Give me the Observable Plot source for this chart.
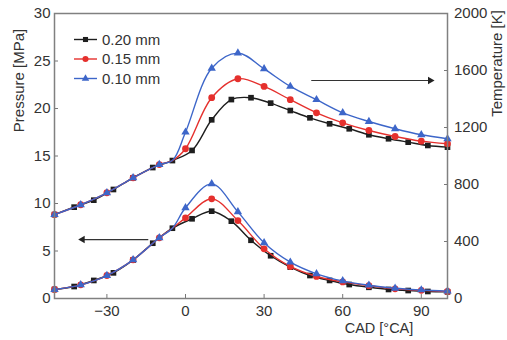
<!DOCTYPE html>
<html>
<head>
<meta charset="utf-8">
<script src="https://cdn.jsdelivr.net/npm/d3@7"></script>
<script src="https://cdn.jsdelivr.net/npm/@observablehq/plot@0.6"></script>
<style>
  html, body { margin: 0; padding: 0; background: #fff; }
</style>
</head>
<body>
<div id="chart"></div>
<script>
// ---- data ----
const seriesNames = ["0.20 mm", "0.15 mm", "0.10 mm"];
const seriesColors = ["#1e1e1e", "#e5302d", "#3d66c9"];

// 0.20 mm: markers every 7.5 °CA
const cadBlack = [-50, -42.5, -35, -27.5, -20, -12.5, -5, 2.5, 10, 17.5, 25, 32.5, 40, 47.5, 55, 62.5, 70, 77.5, 85, 92.5, 100];
const pBlack   = [0.95, 1.26, 1.9, 2.7, 4.05, 5.82, 7.4, 8.39, 9.19, 8.14, 6.13, 4.5, 3.3, 2.42, 1.9, 1.47, 1.18, 0.95, 0.84, 0.74, 0.7];
const tBlack   = [589, 641, 690, 765, 847, 919, 968, 1039, 1254, 1396, 1409, 1371, 1319, 1268, 1226, 1191, 1149, 1121, 1097, 1074, 1062];

// 0.15 mm and 0.10 mm: markers every 10 °CA (-5 is a line-only point)
const cadRB  = [-50, -40, -30, -20, -10, -5, 0, 10, 20, 30, 40, 50, 60, 70, 80, 90, 100];
const pRed   = [0.95, 1.44, 2.42, 4.07, 6.39, 7.4, 8.49, 10.49, 8.2, 5.23, 3.37, 2.32, 1.75, 1.35, 1.02, 0.86, 0.74];
const tRed   = [589, 658, 742, 847, 940, 968, 1051, 1409, 1542, 1488, 1395, 1303, 1233, 1179, 1137, 1104, 1086];
const pBlue  = [0.95, 1.44, 2.42, 4.07, 6.39, 7.4, 9.55, 12.07, 9.12, 5.86, 3.82, 2.6, 1.85, 1.4, 1.08, 0.9, 0.78];
const tBlue  = [589, 658, 742, 847, 940, 968, 1167, 1616, 1722, 1611, 1488, 1395, 1303, 1242, 1191, 1149, 1121];

// axes
const cadTicks = [-30, 0, 30, 60, 90];
const pressureTicks = [0, 5, 10, 15, 20, 25, 30];
const tempTicks = [0, 400, 800, 1200, 1600, 2000];
const pMax = 30, tMax = 2000;

// annotation arrows (x in °CA, y in MPa)
const arrows = [
  {x1: 48, x2: 93.4, y: 22.95},
  {x1: -14.2, x2: -39.3, y: 6.2}
];

// ---- build tables ----
const toP = t => t * pMax / tMax;
function rows(name, cad, p, t, markEvery) {
  return cad.map((x, i) => ({name, x, p: p[i], t: t[i], mark: markEvery(x)}));
}
const black = rows(seriesNames[0], cadBlack, pBlack, tBlack, () => true);
const red   = rows(seriesNames[1], cadRB, pRed, tRed, x => x % 10 === 0);
const blue  = rows(seriesNames[2], cadRB, pBlue, tBlue, x => x % 10 === 0);

const symbols = ["square", "circle", "triangle"];
const radii = [3.2, 3.4, 3.1];
const seriesData = [black, red, blue];

const marks = [];
seriesData.forEach((data, i) => {
  const c = seriesColors[i];
  marks.push(Plot.line(data, {x: "x", y: "p", stroke: c, strokeWidth: 1.4, curve: "catmull-rom"}));
  marks.push(Plot.line(data, {x: "x", y: d => toP(d.t), stroke: c, strokeWidth: 1.4, curve: "catmull-rom"}));
  marks.push(Plot.dot(data, {filter: d => d.mark, x: "x", y: "p", symbol: symbols[i], r: radii[i], fill: c, stroke: "none"}));
  marks.push(Plot.dot(data, {filter: d => d.mark, x: "x", y: d => toP(d.t), symbol: symbols[i], r: radii[i], fill: c, stroke: "none"}));
});

const chart = Plot.plot({
  width: 507,
  height: 340,
  marginLeft: 54,
  marginRight: 60,
  marginTop: 13,
  marginBottom: 42,
  style: {fontFamily: "'Liberation Sans', Arial, sans-serif", fontSize: "15px", color: "#333", background: "#fff"},
  x: {domain: [-50, 100]},
  y: {domain: [0, pMax]},
  marks: [
    Plot.axisX({ticks: cadTicks, tickSize: -4, tickPadding: 11, label: null, stroke: "#777", fill: "#333"}),
    Plot.axisY({anchor: "left", ticks: pressureTicks, tickSize: -4, tickPadding: 8, label: null, stroke: "#777", fill: "#333"}),
    Plot.axisY({anchor: "right", ticks: tempTicks.map(toP), tickFormat: d => String(Math.round(d * tMax / pMax)),
                tickSize: -4, tickPadding: 10.5, label: null, stroke: "#777", fill: "#333"}),
    ...marks,
    Plot.link(arrows, {x1: "x1", x2: "x2", y1: "y", y2: "y", stroke: "#333", strokeWidth: 1.2}),
    Plot.dot(arrows, {x: "x2", y: "y", symbol: "triangle", r: 2.8, fill: "#222", stroke: "none",
                      rotate: d => d.x2 > d.x1 ? 90 : -90}),
    Plot.frame({stroke: "#808080", strokeWidth: 1.5}),
    Plot.text(["Pressure [MPa]"], {text: d => d, frameAnchor: "top-left", dx: -35, dy: 67, rotate: -90,
                                   textAnchor: "middle", lineAnchor: "middle", fill: "#333"}),
    Plot.text(["Temperature [K]"], {text: d => d, frameAnchor: "top-right", dx: 50, dy: 50, rotate: -90,
                                    textAnchor: "middle", lineAnchor: "middle", fill: "#333"}),
    Plot.text(["CAD [°CA]"], {text: d => d, frameAnchor: "bottom", dx: 128, dy: 29.5, fontSize: 14.5,
                              textAnchor: "middle", lineAnchor: "middle", fill: "#333"})
  ]
});

// ---- legend (inside plot, top-left) ----
const svg = d3.select(chart);
const lg = svg.append("g").attr("transform", "translate(74,39.5)");
const d3Symbols = [d3.symbolSquare, d3.symbolCircle, d3.symbolTriangle];
seriesNames.forEach((name, i) => {
  const g = lg.append("g").attr("transform", `translate(0,${i * 19.5})`);
  g.append("line").attr("x1", 0).attr("x2", 23).attr("y1", 0).attr("y2", 0)
    .attr("stroke", seriesColors[i]).attr("stroke-width", 1.4);
  g.append("path").attr("transform", "translate(11.5,0)")
    .attr("d", d3.symbol(d3Symbols[i], Math.PI * radii[i] * radii[i] * 0.8)())
    .attr("fill", seriesColors[i]);
  g.append("text").attr("x", 28).attr("y", 0).attr("dy", "0.35em")
    .attr("text-anchor", "start")
    .attr("fill", "#333").text(name);
});

document.getElementById("chart").appendChild(chart);
</script>
</body>
</html>
